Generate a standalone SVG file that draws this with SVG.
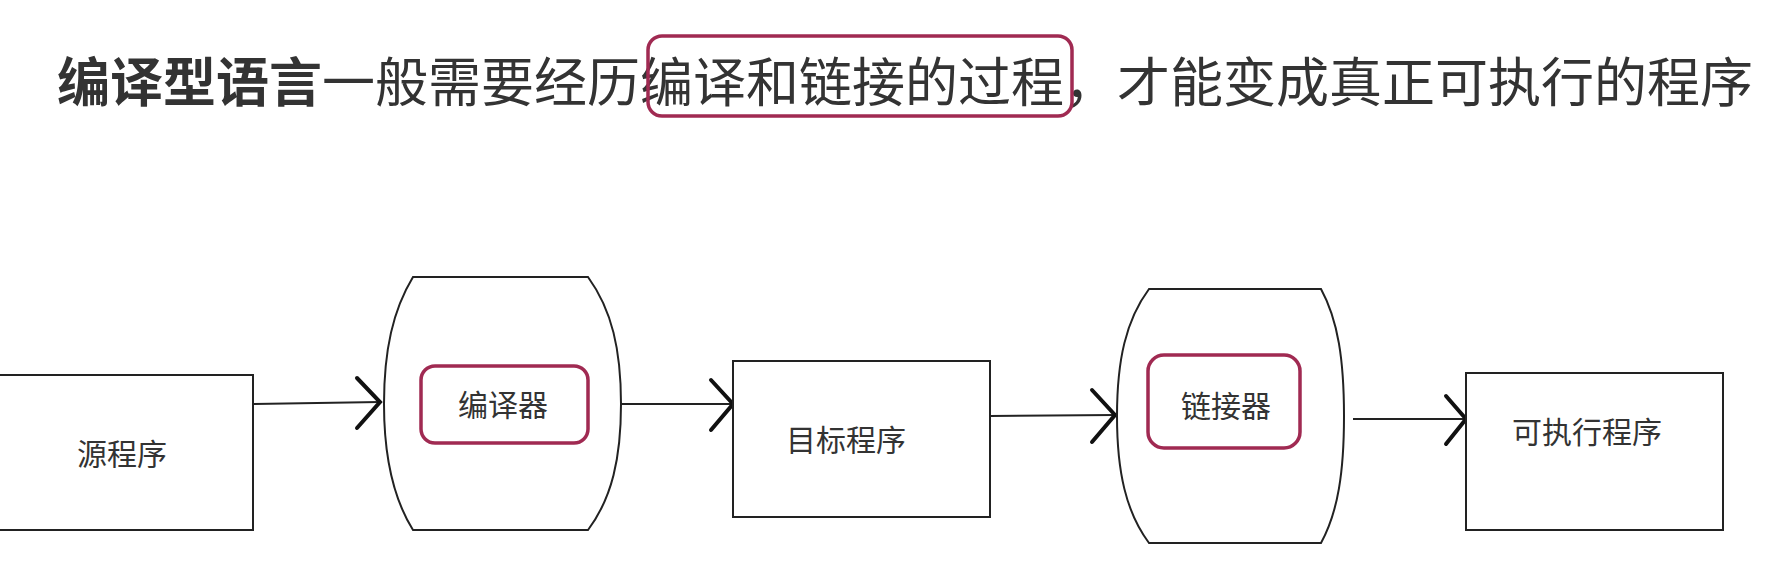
<svg xmlns="http://www.w3.org/2000/svg" width="1791" height="566" viewBox="0 0 1791 566">
<style>
.t{font-family:"Noto Sans CJK SC",sans-serif;fill:#333}
.box{fill:#fff;stroke:#222;stroke-width:2}
.hl{fill:none;stroke:#a02a52;stroke-width:3.5}
.ln{stroke:#222;stroke-width:2;fill:none}
.hd{stroke:#111;stroke-width:4;fill:none;stroke-linecap:round}
.lb{font-size:30px;text-anchor:middle}
</style>
<rect width="1791" height="566" fill="#fff"/>
<g id="title">
<text class="t" x="57" y="102" font-size="53"><tspan font-weight="bold">编译型语言</tspan>一般需要经历编译和链接的过程，才能变成真正可执行的程序</text>
<rect class="hl" x="648" y="36" width="424" height="80" rx="14"/>
</g>
<g id="connectors">
<path class="ln" d="M253 404 L380 402"/><path class="hd" d="M357 378 L380 402 L357 428"/>
<path class="ln" d="M621 404 L733 404"/><path class="hd" d="M711 380 L733 404 L711 430"/>
<path class="ln" d="M990 416 L1115 415"/><path class="hd" d="M1092 390 L1115 415 L1092 442"/>
<path class="ln" d="M1353 419 L1466 419"/><path class="hd" d="M1446 396 L1466 419 L1446 444"/>
</g>
<g id="source"><rect class="box" x="-2" y="375" width="255" height="155"/><text class="t lb" x="122" y="465">源程序</text></g>
<g id="compiler">
<path class="box" d="M413 277 L588 277 C612 310 621 350 621 404 C621 458 612 498 588 530 L413 530 C393 498 384 458 384 404 C384 350 393 310 413 277 Z"/>
<rect class="hl" x="421" y="366" width="167" height="77" rx="14"/>
<text class="t lb" x="503" y="416">编译器</text>
</g>
<g id="target"><rect class="box" x="733" y="361" width="257" height="156"/><text class="t lb" x="846" y="451">目标程序</text></g>
<g id="linker">
<path class="box" d="M1149 289 L1321 289 C1338 320 1344 360 1344 416 C1344 472 1338 512 1321 543 L1149 543 C1126 512 1117 472 1117 416 C1117 360 1126 320 1149 289 Z"/>
<rect class="hl" x="1148" y="355" width="152" height="93" rx="16"/>
<text class="t lb" x="1226" y="417">链接器</text>
</g>
<g id="exec"><rect class="box" x="1466" y="373" width="257" height="157"/><text class="t lb" x="1587" y="443">可执行程序</text></g>
</svg>
